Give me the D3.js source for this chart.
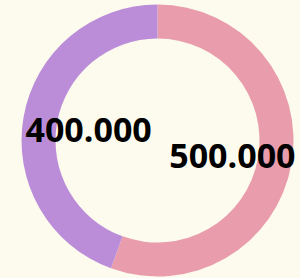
<!DOCTYPE html>
<html>
<head>
<meta charset="utf-8">
<script src="https://cdn.jsdelivr.net/npm/d3@7"></script>
<style>
  html, body { margin: 0; padding: 0; background: #fdfbee; }
  svg { display: block; }
</style>
</head>
<body>
<script>
// data
const categories = ["A", "B"];
const values = [500000, 400000];
const labels = ["500.000", "400.000"];
const colorList = ["#e99dac", "#bb8dd9"];

const width = 300;
const height = 278;
const cx = 157.5;
const cy = 140.5;

const svg = d3.select("body").append("svg")
  .attr("width", width)
  .attr("height", height);

const color = d3.scaleOrdinal()
  .domain(categories)
  .range(colorList);

const pie = d3.pie().sort(null).value(d => d.value);
const slices = pie(categories.map((c, i) => ({ name: c, value: values[i], label: labels[i] })));

const arc = d3.arc()
  .innerRadius(102)
  .outerRadius(136);

// labels sit at the centroid of a full pie slice
const labelArc = d3.arc()
  .innerRadius(0)
  .outerRadius(146);

const g = svg.append("g")
  .attr("transform", `translate(${cx}, ${cy})`);

g.selectAll("path")
  .data(slices)
  .join("path")
  .attr("d", arc)
  .attr("fill", d => color(d.data.name));

g.selectAll("text")
  .data(slices)
  .join("text")
  .attr("transform", d => `translate(${labelArc.centroid(d)})`)
  .attr("text-anchor", "middle")
  .attr("dx", 3)
  .attr("dy", "0.43em")
  .attr("font-family", "Open Sans")
  .attr("font-weight", "bold")
  .attr("font-size", 34)
  .attr("fill", "#000")
  .text(d => d.data.label);
</script>
</body>
</html>
